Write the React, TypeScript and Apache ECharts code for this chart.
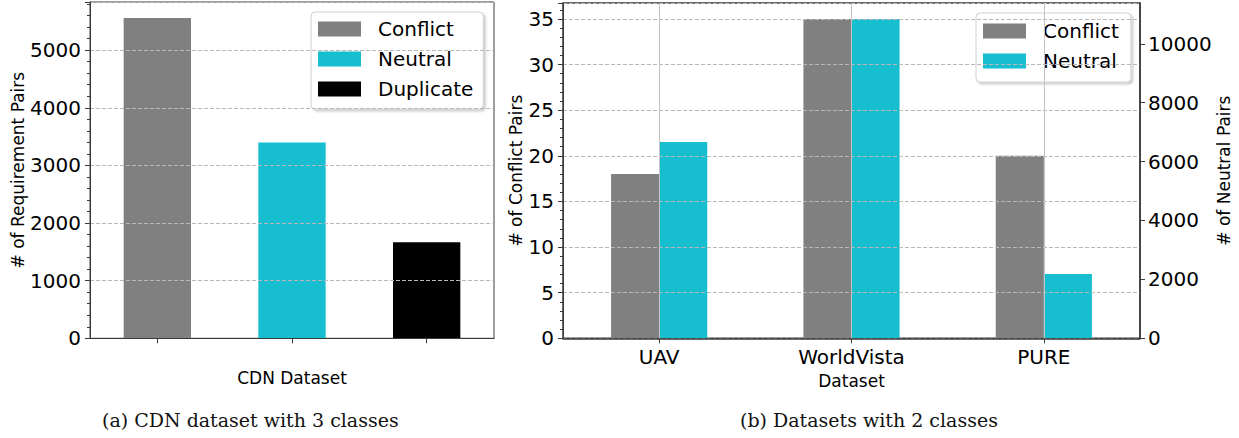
import React, { useEffect, useRef } from "react";
import * as echarts from "echarts";

// (a) CDN dataset
const cdnClasses = ["Conflict", "Neutral", "Duplicate"];
const cdnCounts = [5557, 3396, 1666];
const classColors = ["#808080", "#17becf", "#000000"];

// (b) datasets with 2 classes
const datasets = ["UAV", "WorldVista", "PURE"];
const conflictPairs = [18, 35, 20];
const neutralPairs = [6666, 10843, 2183];

const captions = ["(a) CDN dataset with 3 classes", "(b) Datasets with 2 classes"];

const FONT = "DejaVu Sans";
const AXIS_COLOR = "#3a3a3a";
const GRID_COLOR = "#b8b8b8";

export default function App() {
  const ref = useRef<HTMLDivElement>(null);

  useEffect(() => {
    if (!ref.current) return;
    const chart = echarts.init(ref.current, undefined, { renderer: "svg" });

    const leftMax = Math.max(...cdnCounts) * 1.05;
    const conflictMax = Math.max(...conflictPairs) * 1.05;
    const neutralMax = Math.max(...neutralPairs) * 1.05;

    const plain = (v: number) => String(v);

    const valueAxisBase = (gridIndex: number) => ({
      type: "value" as const,
      gridIndex,
      min: 0,
      z: 5,
      axisLine: { show: true, lineStyle: { color: AXIS_COLOR, width: 1 } },
      axisTick: { show: true, length: 5, lineStyle: { color: AXIS_COLOR } },
      minorTick: { show: true, splitNumber: 5, length: 3, lineStyle: { color: AXIS_COLOR } },
      splitLine: { show: true, lineStyle: { type: [4, 2], color: GRID_COLOR, width: 1 } },
      axisLabel: { fontSize: 20, color: "#000", margin: 9, showMaxLabel: false, fontFamily: FONT, formatter: plain },
      nameLocation: "middle" as const,
      nameRotate: 90,
      nameTextStyle: { fontSize: 17, color: "#000", fontFamily: FONT },
    });

    const legendBase = {
      orient: "vertical" as const,
      icon: "rect",
      itemWidth: 43,
      itemHeight: 15,
      itemGap: 10,
      selectedMode: false,
      backgroundColor: "#ffffff",
      borderColor: "#d0d0d0",
      borderWidth: 1,
      borderRadius: 4,
      shadowColor: "rgba(0,0,0,0.2)",
      shadowBlur: 2,
      shadowOffsetX: 2,
      shadowOffsetY: 2,
      textStyle: { fontSize: 20, lineHeight: 20, color: "#000", fontFamily: FONT, padding: [0, 0, 0, 12] },
    };

    chart.setOption({
      animation: false,
      textStyle: { fontFamily: FONT },
      grid: [
        { left: 90, top: 2, width: 404, height: 336.3, show: true, borderColor: AXIS_COLOR, borderWidth: 1, backgroundColor: "transparent" },
        { left: 563, top: 3, width: 577, height: 335.3, show: true, borderColor: AXIS_COLOR, borderWidth: 1.5, backgroundColor: "transparent" },
      ],
      xAxis: [
        {
          type: "category",
          gridIndex: 0,
          z: 6,
          data: cdnClasses,
          axisLine: { lineStyle: { color: AXIS_COLOR, width: 1 } },
          axisTick: { show: true, alignWithLabel: true, length: 5, lineStyle: { color: AXIS_COLOR } },
          axisLabel: { show: false },
          splitLine: { show: false },
          name: "CDN Dataset",
          nameLocation: "middle",
          nameGap: 31,
          nameTextStyle: { fontSize: 17, color: "#000", fontFamily: FONT },
        },
        {
          type: "category",
          gridIndex: 1,
          z: 6,
          data: datasets,
          axisLine: { lineStyle: { color: AXIS_COLOR, width: 1.5 } },
          axisTick: { show: true, alignWithLabel: true, length: 5, lineStyle: { color: AXIS_COLOR } },
          axisLabel: { fontSize: 20, color: "#000", margin: 9, fontFamily: FONT },
          splitLine: { show: false },
          name: "Dataset",
          nameLocation: "middle",
          nameGap: 31,
          nameTextStyle: { fontSize: 17, color: "#000", fontFamily: FONT },
        },
      ],
      yAxis: [
        {
          ...valueAxisBase(0),
          max: leftMax,
          interval: 1000,
          name: "# of Requirement Pairs",
          nameGap: 58,
        },
        {
          ...valueAxisBase(1),
          max: conflictMax,
          interval: 5,
          name: "# of Conflict Pairs",
          nameGap: 38,
        },
        {
          ...valueAxisBase(1),
          position: "right",
          max: neutralMax,
          interval: 2000,
          minorTick: { show: false },
          splitLine: { show: false },
          axisLabel: { fontSize: 20, color: "#000", margin: 8, showMaxLabel: false, fontFamily: FONT, formatter: plain },
          axisLine: { show: true, lineStyle: { color: AXIS_COLOR, width: 1.5 } },
          name: "# of Neutral Pairs",
          nameGap: 62,
        },
      ],
      legend: [
        { ...legendBase, data: cdnClasses, left: 311, top: 12, padding: [7, 10, 10, 7] },
        { ...legendBase, data: ["Conflict", "Neutral"], left: 976, top: 13, padding: [8, 12, 11, 7] },
      ],
      series: [
        ...cdnClasses.map((name, i) => ({
          type: "bar",
          name,
          xAxisIndex: 0,
          yAxisIndex: 0,
          stack: "cdn",
          barWidth: "50%",
          itemStyle: { color: classColors[i] },
          data: cdnClasses.map((_, j) => (j === i ? cdnCounts[i] : null)),
        })),
        {
          type: "bar",
          name: "Conflict",
          xAxisIndex: 1,
          yAxisIndex: 1,
          barWidth: "25%",
          barGap: "0%",
          itemStyle: { color: classColors[0] },
          data: conflictPairs,
        },
        {
          type: "bar",
          name: "Neutral",
          xAxisIndex: 1,
          yAxisIndex: 2,
          barWidth: "25%",
          barGap: "0%",
          itemStyle: { color: classColors[1] },
          data: neutralPairs,
        },
        {
          type: "line",
          name: "xgrid",
          xAxisIndex: 1,
          yAxisIndex: 1,
          data: [],
          showSymbol: false,
          markLine: {
            silent: true,
            symbol: ["none", "none"],
            label: { show: false },
            lineStyle: { type: "solid", color: "#c4c4c4", width: 1 },
            data: datasets.map((d) => ({ xAxis: d })),
          },
        },
      ],
      graphic: [
        {
          type: "text",
          left: 252 - 150,
          top: 410,
          style: { text: captions[0], fontSize: 19, fontFamily: "DejaVu Serif", fill: "#111" },
        },
        {
          type: "text",
          left: 870 - 130,
          top: 410,
          style: { text: captions[1], fontSize: 19, fontFamily: "DejaVu Serif", fill: "#111" },
        },
      ],
    });

    return () => chart.dispose();
  }, []);

  return (
    <div
      ref={ref}
      style={{ position: "absolute", left: 0, top: 0, width: 1239, height: 438, background: "#fff" }}
    />
  );
}
